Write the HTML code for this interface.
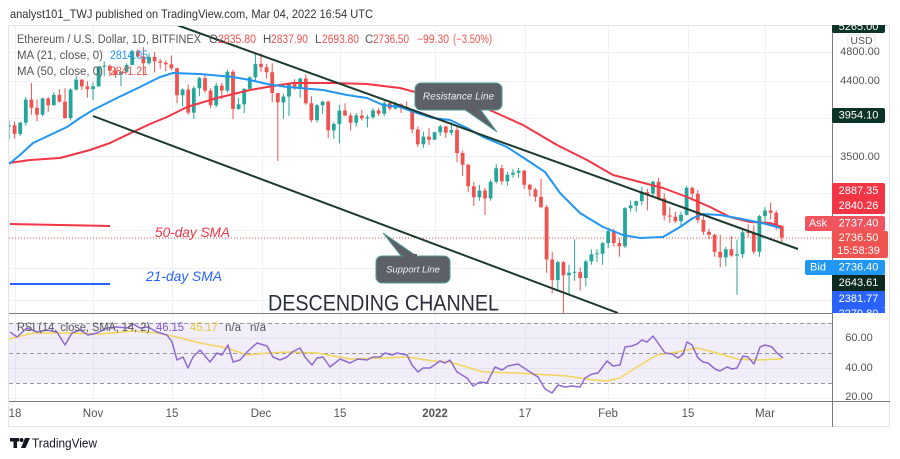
<!DOCTYPE html>
<html><head><meta charset="utf-8"><style>
html,body{margin:0;padding:0;background:#fff;}
svg{display:block;font-family:"Liberation Sans",Arial,sans-serif;}
</style></head><body>
<svg width="900" height="459" viewBox="0 0 900 459" xmlns="http://www.w3.org/2000/svg">
<defs>
<clipPath id="main"><rect x="9" y="25" width="823" height="288"/></clipPath>
<clipPath id="rsi"><rect x="9" y="314" width="823" height="87"/></clipPath>
<clipPath id="axis"><rect x="832" y="25" width="58" height="288"/></clipPath>
</defs>
<rect x="0" y="0" width="900" height="459" fill="#fff"/>
<text x="10" y="14" font-size="12" fill="#333" dominant-baseline="central" textLength="363" lengthAdjust="spacingAndGlyphs">analyst101_TWJ published on TradingView.com, Mar 04, 2022 16:54 UTC</text>

<!-- grid -->
<g stroke="#eef2f8" stroke-width="1">
<line x1="9" y1="52.5" x2="832" y2="52.5"/><line x1="9" y1="81.5" x2="832" y2="81.5"/>
<line x1="9" y1="118.5" x2="832" y2="118.5"/><line x1="9" y1="156.5" x2="832" y2="156.5"/>
<line x1="9" y1="193.5" x2="832" y2="193.5"/><line x1="9" y1="230.5" x2="832" y2="230.5"/>
<line x1="9" y1="268.5" x2="832" y2="268.5"/><line x1="9" y1="300.5" x2="832" y2="300.5"/>
<line x1="9" y1="338.5" x2="832" y2="338.5"/><line x1="9" y1="368.5" x2="832" y2="368.5"/><line x1="9" y1="398.5" x2="832" y2="398.5"/>
<line x1="15.5" y1="25" x2="15.5" y2="401"/><line x1="93.5" y1="25" x2="93.5" y2="401"/>
<line x1="172.5" y1="25" x2="172.5" y2="401"/><line x1="262.5" y1="25" x2="262.5" y2="401"/>
<line x1="340.5" y1="25" x2="340.5" y2="401"/><line x1="435.5" y1="25" x2="435.5" y2="401"/>
<line x1="525.5" y1="25" x2="525.5" y2="401"/><line x1="608.5" y1="25" x2="608.5" y2="401"/>
<line x1="688.5" y1="25" x2="688.5" y2="401"/><line x1="765.5" y1="25" x2="765.5" y2="401"/>
</g>

<!-- RSI band -->
<rect x="9" y="323" width="823" height="60" fill="#7e57c2" fill-opacity="0.1"/>
<g stroke="#9598a1" stroke-width="1" stroke-dasharray="4,3">
<line x1="9" y1="323.5" x2="832" y2="323.5"/><line x1="9" y1="353.5" x2="832" y2="353.5"/><line x1="9" y1="383.5" x2="832" y2="383.5"/>
</g>

<!-- current price dotted line -->
<line x1="9" y1="238" x2="832" y2="238" stroke="#ef5350" stroke-width="1" stroke-dasharray="1,2"/>

<!-- candles -->
<g clip-path="url(#main)" fill="none">
<path stroke="#26a69a" stroke-width="1" d="M9 120.5V139.7M20.2 121.4V136.1M25.8 96.9V125.7M42.6 97.6V116.3M53.8 92.2V105.6M70.6 88.3V120.5M76.2 76.3V90.6M93 82.2V100M98.6 66V86.8M104.2 61.4V76.3M121 71.1V86M126.6 63.2V72.2M132.2 50V65M149 53.4V64.6M182.6 88.3V106.5M193.8 86V118.9M199.4 77V96.1M216.2 83V107.3M227.4 69.7V92.2M238.6 97.6V109.7M244.2 88.3V113M249.8 76.3V89.9M255.4 54.1V82.2M283.4 93.7V118.9M289 83V116.3M300.2 77.7V97.6M317 104V122.2M322.6 100.8V113.8M333.8 122.2V138.8M339.4 104.8V143.3M356.2 113V126.5M367.4 114.7V127.4M373 108.1V118.9M384.2 100.8V116.3M395.4 101.6V109.7M423.4 131.7V147.8M434.6 131.7V139.7M440.2 124.8V136.1M451.4 122.2V135.2M479.4 184.8V200.6M490.6 179.7V200.6M496.2 163.9V183.8M507.4 171.7V185.8M513 168.8V177.7M518.6 167.8V177.7M557.8 260.8V290.6M569 264.7V294.8M574.6 239.5V280.7M585.8 259.5V286.4M591.4 249.3V264.7M597 249.3V262.1M602.6 241.9V264.7M608.2 227.6V248.1M625 207.1V248.1M630.6 200.6V211.6M636.2 200.6V211.6M641.8 186.8V204.9M653 180.7V196.3M681 211.6V226.4M686.6 185.8V215.5M725.8 246.8V266M737 239.5V294.8M742.6 228.7V258.1M759.4 214.9V256.8M765 207.1V222.9"/>
<path stroke="#26a69a" stroke-width="3.8" d="M9 125.2V126.5M20.2 122.7V133.9M25.8 99.6V122.7M42.6 98.4V114.7M53.8 94.9V105.2M70.6 89.5V118M76.2 79.6V89.5M93 86.4V89.1M98.6 66.8V86.4M104.2 65.7V66.8M121 71.8V74.8M126.6 65V71.8M132.2 51.3V65M149 56.9V63.2M182.6 89.5V95.3M193.8 88.3V112.6M199.4 78.1V88.3M216.2 85.6V105.2M227.4 71.8V90.6M238.6 104.4V108.9M244.2 88.7V104.4M249.8 77.4V88.7M255.4 63.9V77.4M283.4 96.5V102.4M289 84.1V96.5M300.2 78.5V87.5M317 105.2V120.1M322.6 101.6V105.2M333.8 124V130.4M339.4 110.5V124M356.2 115.5V122.7M367.4 117.2V118.4M373 110.5V117.2M384.2 103.2V113.8M395.4 104.4V108.5M423.4 136.6V144.2M434.6 132.2V139.7M440.2 126.5V132.2M451.4 130V132.6M479.4 190.5V197.3M490.6 181.7V198.4M496.2 168.3V181.7M507.4 174.7V181.2M513 172.7V174.7M518.6 170.7V172.7M557.8 262.1V280.1M569 272.7V275.3M574.6 271.7V272.7M585.8 261.4V278M591.4 254.3V261.4M597 253.3V254.3M602.6 243.1V253.7M608.2 231.1V243.1M625 208.2V246.2M630.6 205.5V208.2M636.2 201.1V205.5M641.8 192.1V201.1M653 181.7V193.7M681 214.9V221.2M686.6 187.9V214.9M725.8 249.3V257.4M737 254.3V255.6M742.6 232.3V254.3M759.4 216.1V251.8M765 210.5V216.1"/>
<path stroke="#ef5350" stroke-width="1" d="M14.6 121.4V138.8M31.4 83V114.7M37 99.2V121.4M48.2 96.9V112.2M59.4 89.1V102.4M65 88.3V118.9M81.8 79.2V89.9M87.4 81.1V97.6M109.8 64.6V76.3M115.4 68.2V77.7M137.8 49.3V57.5M143.4 47.2V75.5M154.6 52V72.6M160.2 58.9V68.9M165.8 60.4V71.1M171.4 55.5V70.4M177 67.5V103.2M188.2 84.5V114.7M205 75.5V93M210.6 88.3V108.1M221.8 83V99.2M233 69.7V118.9M261 53.4V71.8M266.6 63.9V78.5M272.2 63.2V102.4M277.8 93V161M294.6 79.2V89.9M305.8 74.8V104.8M311.4 96.1V122.2M328.2 100.8V137.9M345 103.2V116.3M350.6 113V130.8M361.8 109.7V120.5M378.6 108.1V116.3M389.8 100.8V110.5M401 103.2V113M406.6 101.6V109.7M412.2 108.9V133.5M417.8 126.5V146.9M429 128.2V145.1M445.8 125.7V137.9M457 125.7V162M462.6 150.6V175.7M468.2 163.9V192.1M473.8 181.7V206M485 187.9V214.9M501.8 164.8V184.8M524.2 169.7V188.9M529.8 183.8V196.3M535.4 187.9V201.6M541 178.7V208.2M546.6 204.9V272.7M552.2 251.8V293.4M563.4 260.8V315.6M580.2 267.3V290.6M613.8 228.7V246.8M619.4 238.3V256.8M647.4 188.9V210.5M658.6 177.7V200.6M664.2 193.1V220.6M669.8 207.1V222.9M675.4 211.6V222.9M692.2 186.8V200.6M697.8 190V222.9M703.4 212.7V234.7M709 228.7V239.5M714.6 233.5V256.8M720.2 234.7V267.3M731.4 235.9V256.8M748.2 224.1V237.1M753.8 225.2V254.3M770.6 202.6V219.4M776.2 210.5V229.9M781.8 225.5V242.6"/>
<path stroke="#ef5350" stroke-width="3.8" d="M14.6 125.2V133.9M31.4 99.6V107.7M37 107.7V114.7M48.2 98.4V105.2M59.4 94.9V101.6M65 101.6V118M81.8 79.6V86.4M87.4 86.4V89.1M109.8 65.7V70.8M115.4 70.8V74.8M137.8 51.3V56.5M143.4 56.5V63.2M154.6 56.9V61.4M160.2 61.4V62.8M165.8 62.8V64.3M171.4 64.3V68.2M177 68.2V95.3M188.2 89.5V112.6M205 78.1V90.6M210.6 90.6V105.2M221.8 85.6V90.6M233 71.8V108.9M261 63.9V67.1M266.6 67.1V72.2M272.2 72.2V93M277.8 93V102.4M294.6 84.1V87.5M305.8 78.5V103.2M311.4 103.2V120.1M328.2 101.6V130.4M345 110.5V115.5M350.6 115.5V122.7M361.8 115.5V118.4M378.6 110.5V113.8M389.8 103.2V108.5M401 104.4V106.9M406.6 106.9V109.3M412.2 109.3V129.5M417.8 129.5V144.2M429 136.6V139.7M445.8 126.5V132.6M457 130V153M462.6 153V164.8M468.2 164.8V186.3M473.8 186.3V197.3M485 190.5V198.4M501.8 168.3V181.2M524.2 170.7V184.8M529.8 184.8V189.5M535.4 189.5V196.8M541 196.8V207.1M546.6 207.1V259.5M552.2 259.5V280.1M563.4 262.1V275.3M580.2 272.1V278M613.8 231.1V243.1M619.4 243.1V246.2M647.4 192.1V193.7M658.6 181.7V198.4M664.2 198.4V215.5M669.8 215.5V216.6M675.4 216.6V221.2M692.2 187.9V193.7M697.8 193.7V220M703.4 220V231.7M709 231.7V234.7M714.6 234.7V251.8M720.2 251.8V257.4M731.4 249.3V255.6M748.2 232V233M753.8 232.9V251.8M770.6 210.5V212.7M776.2 212.7V225.8M781.8 225.7V237.4"/>
</g>

<g clip-path="url(#main)" fill="none" stroke-width="2" stroke-linejoin="round">
<polyline stroke="#f23645" points="9,163 30,160 60,158 90,150 110,143 133,132 150,124 167,117 187,107 217,98 250,90 273,86 293,83 333,83 367,84 400,88 430,96 450,100 483,107 523,125 557,145 587,160 613,175 640,182 663,188 687,197 710,207 730,217 750,222 770,223 782,227"/>
<polyline stroke="#2196f3" points="9,164 20,155 33,143 50,135 67,127 80,118 93,110 117,98 140,87 160,77 173,73 200,74 233,77 250,80 267,84 287,87 300,88 323,90 347,95 367,98 383,105 400,107 417,113 433,118 450,120 467,128 483,137 507,147 530,162 545,172 560,193 580,213 603,227 623,235 640,238 663,237 680,227 693,218 703,214 720,215 737,218 757,222 770,225 780,228"/>
<line x1="177" y1="25" x2="798" y2="249" stroke="#1c3a2e" stroke-width="2"/>
<line x1="93" y1="116" x2="618" y2="313" stroke="#1c3a2e" stroke-width="2"/>
</g>

<!-- callouts -->
<polygon points="464,109 480,109 497,132" fill="#5d6069" stroke="#4f9c93" stroke-width="1"/>
<rect x="415" y="83" width="87" height="27" rx="6" fill="#5d6069" stroke="#4f9c93" stroke-width="1"/>
<rect x="466" y="104" width="13" height="7" fill="#5d6069"/>
<text x="458.5" y="97" font-size="10" font-style="italic" fill="#eef0f3" text-anchor="middle" dominant-baseline="central">Resistance Line</text>
<polygon points="383,233 402,257 418,257" fill="#5d6069" stroke="#4f9c93" stroke-width="1"/>
<rect x="376" y="256" width="74" height="27" rx="6" fill="#5d6069" stroke="#4f9c93" stroke-width="1"/>
<rect x="403" y="254" width="14" height="6" fill="#5d6069"/>
<text x="413" y="270" font-size="9.5" font-style="italic" fill="#eef0f3" text-anchor="middle" dominant-baseline="central">Support Line</text>

<!-- annotations -->
<line x1="10" y1="224" x2="110" y2="226" stroke="#f23645" stroke-width="2"/>
<line x1="10" y1="284" x2="110" y2="284" stroke="#2962ff" stroke-width="2"/>
<text x="155" y="232" font-size="14" font-style="italic" fill="#f23645" dominant-baseline="central" textLength="75" lengthAdjust="spacingAndGlyphs">50-day SMA</text>
<text x="146" y="276" font-size="14" font-style="italic" fill="#2962ff" dominant-baseline="central" textLength="76" lengthAdjust="spacingAndGlyphs">21-day SMA</text>
<text x="268" y="303" font-size="22" fill="#2a2e39" dominant-baseline="central" textLength="231" lengthAdjust="spacingAndGlyphs">DESCENDING  CHANNEL</text>

<!-- legend -->
<g font-size="11.5" dominant-baseline="central">
<text x="17" y="40" fill="#555" textLength="184" lengthAdjust="spacingAndGlyphs">Ethereum / U.S. Dollar, 1D, BITFINEX</text>
<text x="209" y="40" fill="#555">O</text><text x="218" y="40" fill="#ef5350" textLength="38" lengthAdjust="spacingAndGlyphs">2835.80</text>
<text x="263" y="40" fill="#555">H</text><text x="271" y="40" fill="#ef5350" textLength="37" lengthAdjust="spacingAndGlyphs">2837.90</text>
<text x="315" y="40" fill="#555">L</text><text x="322" y="40" fill="#ef5350" textLength="37" lengthAdjust="spacingAndGlyphs">2693.80</text>
<text x="365" y="40" fill="#555">C</text><text x="373" y="40" fill="#ef5350" textLength="36" lengthAdjust="spacingAndGlyphs">2736.50</text>
<text x="417" y="40" fill="#ef5350" textLength="32" lengthAdjust="spacingAndGlyphs">−99.30</text>
<text x="453" y="40" fill="#ef5350" textLength="39" lengthAdjust="spacingAndGlyphs">(−3.50%)</text>
<text x="17" y="56" fill="#555" textLength="86" lengthAdjust="spacingAndGlyphs">MA (21, close, 0)</text>
<text x="110" y="56" fill="#2196f3" textLength="38" lengthAdjust="spacingAndGlyphs">2814.05</text>
<text x="17" y="72" fill="#555" textLength="86" lengthAdjust="spacingAndGlyphs">MA (50, close, 0)</text>
<text x="110" y="72" fill="#ef5350" textLength="38" lengthAdjust="spacingAndGlyphs">2841.21</text>
</g>

<!-- RSI lines -->
<g clip-path="url(#rsi)" fill="none" stroke-width="1.5" stroke-linejoin="round">
<polyline stroke="#f2d55a" points="9,339 33,333 67,333 100,334 133,331 157,333 177,337 200,343 227,348 247,355 267,353 290,352 317,353 350,359 383,358 407,357 433,361 450,362 483,372 517,373 550,375 567,376 593,380 607,381 620,378 637,367 657,355 677,352 697,348 717,353 737,359 757,360 782,359"/>
<polyline stroke="#8f6ad0" points="10,332 17,337 27,328 37,332 47,330 57,332 65,345 72,333 80,330 88,335 97,333 107,328 117,327 127,328 133,324 140,328 148,327 157,332 167,335 172,342 177,360 183,357 188,368 193,357 200,350 210,362 217,353 222,355 228,345 233,362 240,360 247,352 257,343 267,346 273,357 280,360 287,357 292,352 300,348 305,357 312,365 317,358 323,357 330,367 340,359 350,363 358,359 367,360 373,357 380,357 385,353 392,355 397,353 407,355 412,365 418,372 423,368 430,368 440,361 445,363 450,360 457,372 467,378 473,386 480,382 487,383 495,367 502,370 508,366 518,364 527,370 538,377 545,389 552,393 558,385 565,387 572,386 580,387 585,378 592,374 598,373 607,361 613,366 620,365 625,347 632,346 637,344 642,340 647,342 653,336 658,343 665,353 672,354 678,358 683,354 687,342 692,345 698,358 703,362 708,363 715,369 720,371 727,367 732,369 737,368 743,356 748,357 754,364 760,347 765,345 772,347 777,353 783,358"/>
</g>
<g font-size="11.5" dominant-baseline="central">
<text x="17" y="328" fill="#555" textLength="133" lengthAdjust="spacingAndGlyphs">RSI (14, close, SMA, 14, 2)</text>
<text x="156" y="328" fill="#7e57c2" textLength="28" lengthAdjust="spacingAndGlyphs">46.15</text>
<text x="190" y="328" fill="#e8c840" textLength="28" lengthAdjust="spacingAndGlyphs">45.17</text>
<text x="225" y="328" fill="#555">n/a</text>
<text x="250" y="328" fill="#555">n/a</text>
</g>

<!-- frame & axes -->
<rect x="8.5" y="25.5" width="881" height="401" fill="none" stroke="#e0e3eb" stroke-width="1"/>
<line x1="9" y1="313.5" x2="832" y2="313.5" stroke="#787b86" stroke-width="1"/>
<line x1="9" y1="401.5" x2="890" y2="401.5" stroke="#787b86" stroke-width="1"/>
<line x1="832.5" y1="25" x2="832.5" y2="427" stroke="#787b86" stroke-width="1"/>

<!-- time labels -->
<g font-size="11.5" fill="#555" text-anchor="middle" dominant-baseline="central">
<text x="15" y="414">18</text><text x="93" y="414">Nov</text><text x="172" y="414">15</text>
<text x="261" y="414">Dec</text><text x="340" y="414">15</text><text x="435" y="414" font-weight="bold">2022</text>
<text x="525" y="414">17</text><text x="608" y="414">Feb</text><text x="688" y="414">15</text><text x="765" y="414">Mar</text>
</g>

<!-- price axis -->
<g font-size="11" dominant-baseline="central">
<g clip-path="url(#axis)">
<rect x="832" y="20" width="53" height="13" rx="2" fill="#0c3327"/>
<text x="858.5" y="27" fill="#fff" text-anchor="middle">5265.00</text>
<rect x="832" y="307" width="53" height="14" rx="2" fill="#2962ff"/>
<text x="858.5" y="314" fill="#fff" text-anchor="middle">2279.80</text>
</g>
<text x="860" y="52" fill="#555" text-anchor="middle">4800.00</text>
<rect x="848" y="35" width="27" height="12" fill="#fff" stroke="#e0e3eb" stroke-width="1" rx="2"/>
<text x="861.5" y="41" fill="#555" text-anchor="middle" font-size="10.5">USD</text>
<text x="860" y="81" fill="#555" text-anchor="middle">4400.00</text>
<rect x="832" y="108" width="53" height="15" rx="2" fill="#0c3327"/>
<text x="858.5" y="115.5" fill="#fff" text-anchor="middle">3954.10</text>
<text x="860" y="157" fill="#555" text-anchor="middle">3500.00</text>
<rect x="832" y="183" width="53" height="31" rx="2" fill="#f23645"/>
<text x="858.5" y="191" fill="#fff" text-anchor="middle">2887.35</text>
<text x="858.5" y="206" fill="#fff" text-anchor="middle">2840.26</text>
<rect x="805" y="216" width="80" height="15" rx="2" fill="#f0545e"/>
<text x="818" y="223.5" fill="#fff" text-anchor="middle">Ask</text>
<text x="858.5" y="223.5" fill="#fff" text-anchor="middle">2737.40</text>
<rect x="832" y="231" width="56" height="27" rx="2" fill="#ef5350"/>
<text x="858.5" y="238" fill="#fff" text-anchor="middle">2736.50</text>
<text x="858.5" y="251" fill="#fff" text-anchor="middle">15:58:39</text>
<rect x="805" y="260" width="80" height="15" rx="2" fill="#2196f3"/>
<text x="818" y="267.5" fill="#fff" text-anchor="middle">Bid</text>
<text x="858.5" y="267.5" fill="#fff" text-anchor="middle">2736.40</text>
<rect x="832" y="275" width="53" height="16" fill="#0c2a1f"/>
<text x="858.5" y="283" fill="#fff" text-anchor="middle">2643.61</text>
<rect x="832" y="291" width="53" height="16" fill="#2962ff"/>
<text x="858.5" y="299" fill="#fff" text-anchor="middle">2381.77</text>
<text x="859" y="338" fill="#555" text-anchor="middle">60.00</text>
<text x="859" y="368" fill="#555" text-anchor="middle">40.00</text>
<text x="859" y="397" fill="#555" text-anchor="middle">20.00</text>
</g>

<!-- footer logo -->
<g fill="#131722">
<rect x="10" y="438" width="9" height="3.5"/>
<rect x="13.5" y="438" width="3.5" height="10"/>
<circle cx="21.5" cy="440" r="2"/>
<polygon points="25,438 30,438 25.5,448 21,448"/>
</g>
<text x="32" y="443" font-size="13" fill="#131722" dominant-baseline="central" textLength="65" lengthAdjust="spacingAndGlyphs">TradingView</text>
</svg>
</body></html>
